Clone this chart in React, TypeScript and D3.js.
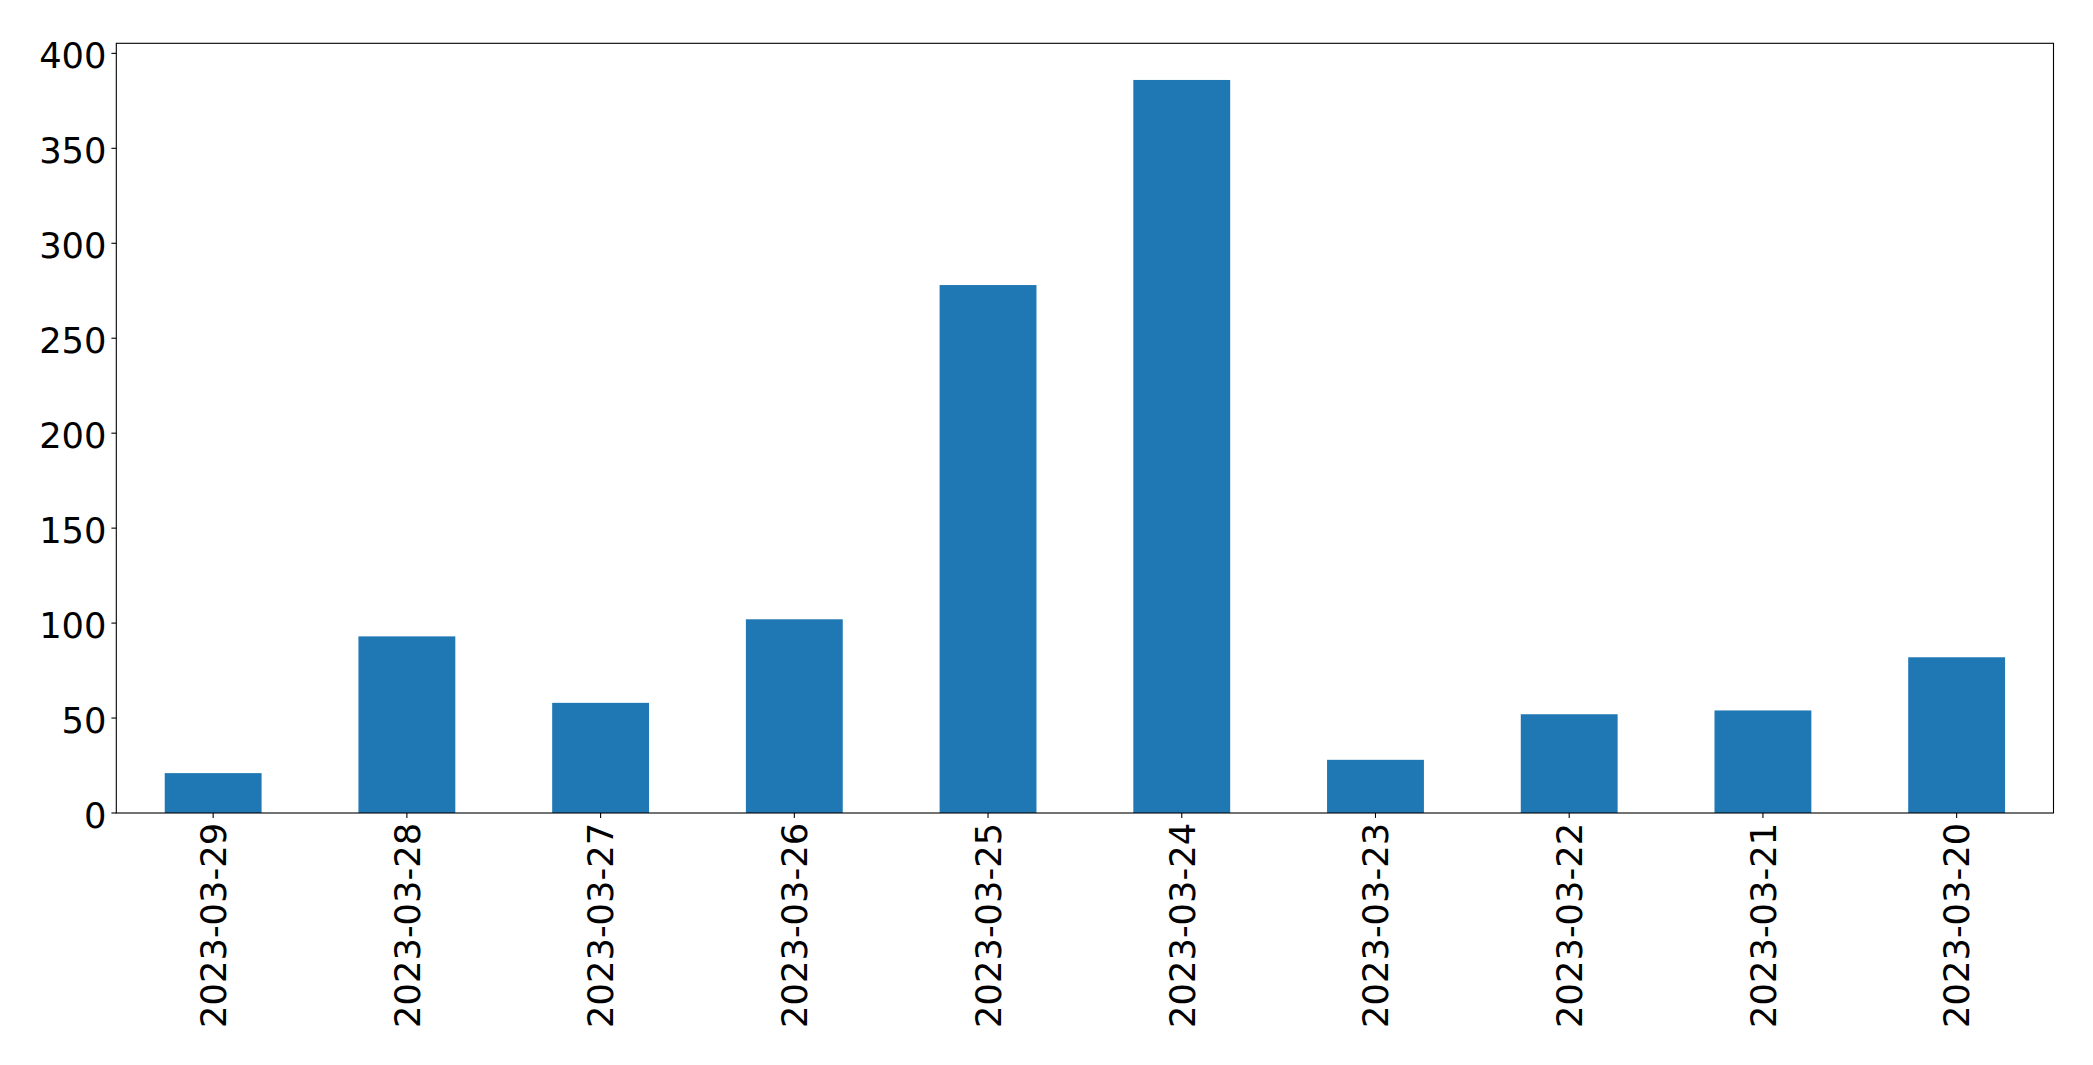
import React from "react";
import * as d3 from "d3";

const categories: string[] = [
  "2023-03-29",
  "2023-03-28",
  "2023-03-27",
  "2023-03-26",
  "2023-03-25",
  "2023-03-24",
  "2023-03-23",
  "2023-03-22",
  "2023-03-21",
  "2023-03-20",
];
const values: number[] = [21, 93, 58, 102, 278, 386, 28, 52, 54, 82];
const yTicks: number[] = [0, 50, 100, 150, 200, 250, 300, 350, 400];

const W = 2093;
const H = 1065;
const left = 116.3;
const right = 2053.5;
const top = 43.3;
const bottom = 813;
const FONT = "'DejaVu Sans', sans-serif";
const FS = 35.3;

export default function App() {
  const yMax = d3.max(values)! * 1.05;
  const y = d3.scaleLinear().domain([0, yMax]).range([bottom, top]);
  const x = d3
    .scaleLinear()
    .domain([-0.5, categories.length - 0.5])
    .range([left, right]);
  const barW = x(0.25) - x(0);

  return (
    <svg
      width={W}
      height={H}
      style={{ position: "absolute", left: 0, top: 0, background: "#fff" }}
      fontFamily={FONT}
    >
      <rect x={0} y={0} width={W} height={H} fill="#fff" />
      {values.map((v, i) => (
        <rect
          key={i}
          x={x(i) - barW}
          y={y(v)}
          width={barW * 2}
          height={bottom - y(v)}
          fill="#1f77b4"
        />
      ))}
      <rect
        x={left}
        y={top}
        width={right - left}
        height={bottom - top}
        fill="none"
        stroke="#000"
        strokeWidth={1.1}
      />
      {yTicks.map((t) => (
        <g key={t}>
          <line x1={left - 4.9} x2={left} y1={y(t)} y2={y(t)} stroke="#000" strokeWidth={1.1} />
          <text
            x={left - 9.8}
            y={y(t) + 14.8}
            textAnchor="end"
            fontSize={FS}
            fill="#000"
          >
            {t}
          </text>
        </g>
      ))}
      {categories.map((c, i) => (
        <g key={c}>
          <line x1={x(i)} x2={x(i)} y1={bottom} y2={bottom + 4.9} stroke="#000" strokeWidth={1.1} />
          <text
            transform={`translate(${x(i) + 12.8},${bottom + 9.8}) rotate(-90)`}
            textAnchor="end"
            fontSize={FS}
            fill="#000"
          >
            {c}
          </text>
        </g>
      ))}
    </svg>
  );
}
